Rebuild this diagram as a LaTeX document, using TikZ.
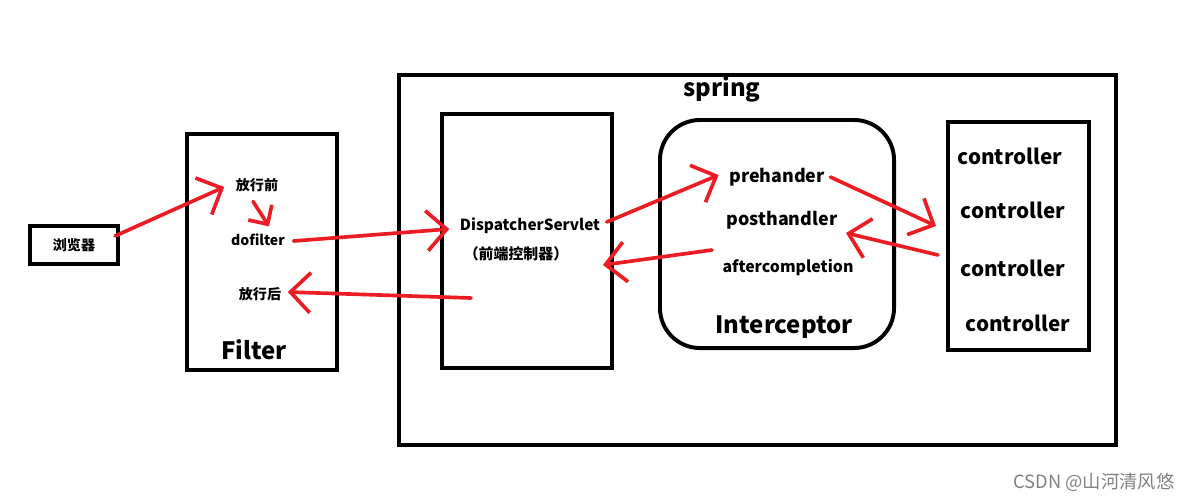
\documentclass[tikz,border=0pt]{standalone}
\usepackage{fontspec}
\setmainfont{Noto Sans CJK SC}
\usetikzlibrary{arrows.meta}
\definecolor{flowred}{RGB}{236,28,36}
\tikzset{
  box/.style={draw=black, line width=2.8pt, inner sep=0pt},
  lbl/.style={font=\bfseries\fontsize{10}{12}\selectfont, inner sep=1pt},
  midtxt/.style={font=\bfseries\fontsize{12.7}{15}\selectfont, inner sep=1pt},
  bigtxt/.style={font=\bfseries\fontsize{17}{20}\selectfont, inner sep=1pt},
  ctrltxt/.style={font=\bfseries\fontsize{14.7}{17}\selectfont, inner sep=1pt},
  flow/.style={draw=flowred, line width=2.6pt, line cap=round, -{Straight Barb[length=5mm, width=10mm]}},
  shortflow/.style={flow, -{Straight Barb[length=3.5mm, width=7mm]}},
}
\begin{document}
\begin{tikzpicture}[x=0.025cm, y=-0.025cm]
    \useasboundingbox (0,0) rectangle (1194,501);

    % Browser and Filter
    \node[box, lbl, minimum width=2.2cm, minimum height=0.95cm] (browser) at (74,245) {浏览器};
    \node[box, minimum width=3.75cm, minimum height=5.9cm] (filter) at (262,252) {};
    \node[lbl] (before) at (257,185) {放行前};
    \node[lbl] (dofilter) at (258,240) {dofilter};
    \node[lbl] (after) at (260,294) {放行后};
    \node[bigtxt] (filterlbl) at (254,350) {Filter};

    % Spring container
    \node[box, minimum width=17.925cm, minimum height=9.25cm] (spring) at (757.5,260) {};
    \node[bigtxt] (springlbl) at (722,89) {spring};

    % DispatcherServlet
    \node[box, minimum width=4.25cm, minimum height=6.35cm] (disp) at (527,241) {};
    \node[lbl, font=\bfseries\fontsize{10.9}{13}\selectfont] (displbl) at (530,226) {DispatcherServlet};
    \node[lbl, font=\bfseries\fontsize{10.6}{13}\selectfont] (dispcn) at (516,254) {（前端控制器）};

    % Interceptor (rounded)
    \node[box, rounded corners=1cm, minimum width=5.85cm, minimum height=5.7cm] (inter) at (777,234) {};
    \node[midtxt] (pre) at (777,177) {prehander};
    \node[midtxt] (post) at (782,220) {posthandler};
    \node[lbl, font=\bfseries\fontsize{11.3}{13}\selectfont] (aftercomp) at (788,268) {aftercompletion};
    \node[bigtxt] (interlbl) at (784,327) {Interceptor};

    % Controllers
    \node[box, minimum width=3.525cm, minimum height=5.7cm] (ctrl) at (1018.5,236) {};
    \node[ctrltxt] (c1) at (1010,156) {controller};
    \node[ctrltxt] (c2) at (1013,210) {controller};
    \node[ctrltxt] (c3) at (1013,268) {controller};
    \node[ctrltxt] (c4) at (1018,323) {controller};

    % Return points
    \coordinate (ret2) at (712,250);
    \coordinate (ret1) at (471,298);

    % Red flow arrows
    \draw[flow] ([shift={(-5,-9)}]browser.east) -- ([shift={(-10,2)}]before.west);
    \draw[shortflow] ([shift={(-4,8)}]before.south) -- ([shift={(11,-6)}]dofilter.north);
    \draw[flow] ([shift={(7,1)}]dofilter.east) -- ([shift={(-9,3)}]displbl.west);
    \draw[flow] ([shift={(5,-4)}]displbl.east) -- ([shift={(-9,-2)}]pre.west);
    \draw[flow] ([shift={(4,0)}]pre.east) -- ([shift={(-10,-10)}]ctrl.west);
    \draw[flow] ([shift={(-8,19)}]ctrl.west) -- ([shift={(7,13)}]post.east);
    \draw[flow] (ret2) -- ([shift={(-11,24)}]disp.east);
    \draw[flow] (ret1) -- ([shift={(5,-2)}]after.east);

    % Watermark
    \node[font=\fontsize{13}{15}\selectfont, text=gray, inner sep=0pt] (mark) at (1094,482) {CSDN @山河清风悠};
\end{tikzpicture}
\end{document}
